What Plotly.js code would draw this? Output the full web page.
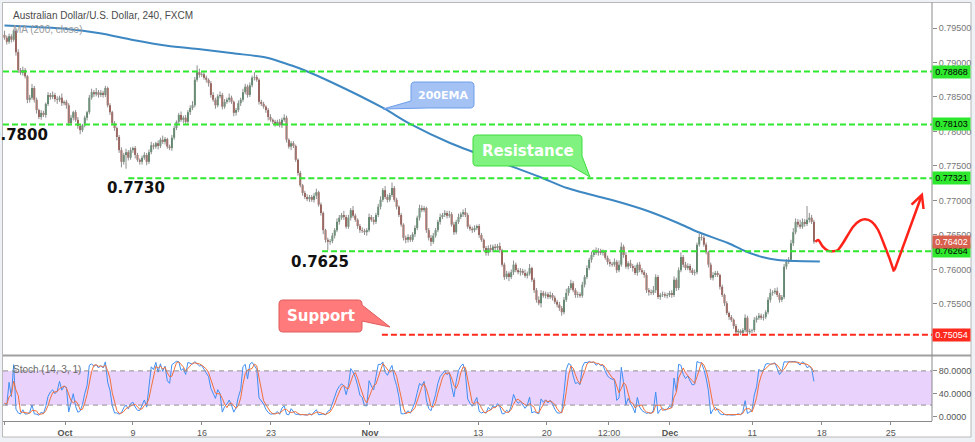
<!DOCTYPE html>
<html><head><meta charset="utf-8">
<script src="https://cdn.plot.ly/plotly-3.0.1.min.js"></script>
<style>html,body{margin:0;padding:0;background:#eef1f5;}#chart{width:975px;height:442px;}</style>
</head><body><div id="chart"></div>
<script>
// ---------- DATA ----------
const firstOpen = 0.7940;
const closes = [
0.7936,0.7930,0.7938,0.7933,0.7946,0.7915,0.7889,0.7885,0.7889,0.7880,
0.7846,0.7849,0.7863,0.7846,0.7831,0.7821,0.7827,0.7824,0.7840,0.7853,
0.7850,0.7853,0.7847,0.7846,0.7849,0.7841,0.7843,0.7838,0.7812,0.7820,
0.7828,0.7817,0.7808,0.7802,0.7809,0.7820,0.7828,0.7849,0.7857,0.7854,
0.7857,0.7853,0.7856,0.7853,0.7863,0.7838,0.7828,0.7812,0.7805,0.7792,
0.7773,0.7756,0.7766,0.7770,0.7762,0.7773,0.7776,0.7766,0.7759,0.7756,
0.7762,0.7766,0.7756,0.7770,0.7780,0.7778,0.7783,0.7779,0.7788,0.7785,
0.7789,0.7778,0.7776,0.7791,0.7805,0.7814,0.7824,0.7817,0.7820,0.7814,
0.7828,0.7834,0.7838,0.7875,0.7886,0.7882,0.7883,0.7878,0.7875,0.7870,
0.7853,0.7846,0.7838,0.7851,0.7853,0.7836,0.7843,0.7846,0.7849,0.7843,
0.7827,0.7831,0.7841,0.7846,0.7857,0.7865,0.7853,0.7867,0.7878,0.7879,
0.7875,0.7843,0.7840,0.7836,0.7831,0.7821,0.7817,0.7814,0.7811,0.7814,
0.7809,0.7817,0.7820,0.7788,0.7778,0.7783,0.7779,0.7759,0.7740,0.7722,
0.7711,0.7705,0.7702,0.7705,0.7701,0.7707,0.7712,0.7694,0.7682,0.7657,
0.7643,0.7640,0.7641,0.7649,0.7657,0.7669,0.7675,0.7679,0.7676,0.7662,
0.7675,0.7686,0.7678,0.7672,0.7663,0.7657,0.7656,0.7654,0.7657,0.7676,
0.7672,0.7669,0.7679,0.7691,0.7701,0.7715,0.7705,0.7701,0.7708,0.7718,
0.7701,0.7691,0.7679,0.7665,0.7646,0.7643,0.7647,0.7643,0.7651,0.7660,
0.7675,0.7689,0.7686,0.7689,0.7657,0.7646,0.7640,0.7649,0.7657,0.7669,
0.7676,0.7679,0.7682,0.7678,0.7680,0.7665,0.7654,0.7669,0.7676,0.7680,
0.7683,0.7679,0.7662,0.7659,0.7657,0.7660,0.7663,0.7650,0.7643,0.7631,
0.7624,0.7631,0.7628,0.7633,0.7631,0.7634,0.7628,0.7607,0.7589,0.7594,
0.7589,0.7596,0.7607,0.7599,0.7596,0.7598,0.7595,0.7591,0.7594,0.7602,
0.7585,0.7570,0.7556,0.7551,0.7566,0.7562,0.7564,0.7560,0.7563,0.7559,
0.7553,0.7549,0.7544,0.7538,0.7556,0.7566,0.7573,0.7580,0.7570,0.7563,
0.7564,0.7562,0.7578,0.7589,0.7602,0.7614,0.7621,0.7625,0.7624,0.7627,
0.7624,0.7625,0.7617,0.7611,0.7608,0.7607,0.7611,0.7599,0.7607,0.7633,
0.7621,0.7604,0.7609,0.7605,0.7602,0.7595,0.7607,0.7599,0.7596,0.7592,
0.7570,0.7567,0.7566,0.7570,0.7589,0.7560,0.7563,0.7564,0.7562,0.7563,
0.7566,0.7563,0.7585,0.7573,0.7599,0.7618,0.7607,0.7602,0.7605,0.7599,
0.7595,0.7596,0.7636,0.7647,0.7646,0.7636,0.7625,0.7607,0.7588,0.7592,
0.7595,0.7592,0.7575,0.7563,0.7551,0.7537,0.7531,0.7527,0.7518,0.7509,
0.7511,0.7508,0.7512,0.7530,0.7509,0.7511,0.7512,0.7527,0.7530,0.7533,
0.7530,0.7531,0.7538,0.7556,0.7566,0.7567,0.7569,0.7563,0.7556,0.7560,
0.7604,0.7611,0.7614,0.7638,0.7654,0.7669,0.7665,0.7662,0.7669,0.7666,
0.7672,0.7675,0.7669,0.76402
];
// upper / lower wick lengths in pips
const wickHi = [
6,3,4,3,2,3,4,3,5,3, 2,4,6,3,3,2,4,3,2,4, 3,5,3,4,3,6,2,3,3,4,
2,3,4,3,2,3,2,4,5,3, 6,3,4,3,3,2,3,2,3,2, 3,4,3,5,3,4,2,3,3,2,
3,4,3,4,5,3,2,4,3,6, 3,2,3,4,3,2,3,5,3,4, 3,4,6,4,10,5,3,4,3,2,
3,4,3,3,5,3,4,3,6,3, 2,3,4,3,5,4,3,4,3,7, 3,2,3,3,2,3,4,2,3,3,
4,3,5,3,2,3,3,2,2,3, 2,3,4,3,3,4,5,2,3,2, 2,3,3,4,3,5,4,3,6,3,
4,3,6,3,2,3,4,3,3,5, 3,4,3,4,5,3,6,4,3,8, 3,3,2,3,2,3,4,3,3,4,
3,5,4,3,2,3,4,4,3,3, 5,3,4,3,5,3,4,3,5,3, 4,6,3,3,3,4,2,3,3,2,
3,4,5,3,4,3,5,2,3,4, 3,4,6,3,3,4,3,5,3,6, 2,3,3,5,4,3,4,3,5,3,
3,3,4,3,4,6,3,5,3,3, 4,3,4,3,4,3,5,4,7,4, 3,4,3,3,4,3,5,3,6,6,
3,4,3,5,3,4,3,4,3,3, 3,3,4,6,4,3,3,4,3,3, 3,4,5,3,4,7,3,4,4,3,
3,4,3,5,4,3,3,2,3,4, 3,3,2,3,2,3,2,3,2,3, 3,2,3,5,3,3,2,4,3,4,
3,4,3,4,6,3,4,5,3,3, 4,4,4,5,6,5,4,7,5,4, 20,7,4,3
];
const wickLo = [
3,4,3,4,3,5,4,3,4,3, 5,4,3,4,5,3,4,3,4,3, 4,3,4,6,3,4,3,5,4,3,
4,3,4,6,3,3,4,3,3,4, 3,4,3,4,3,3,4,3,4,5, 4,8,4,20,4,3,4,5,3,4,
4,3,5,3,3,4,3,5,3,3, 4,3,3,4,3,3,4,3,5,3, 3,4,3,3,3,4,3,3,4,5,
4,3,5,3,3,4,3,3,4,3, 5,4,3,4,3,3,4,3,3,4, 3,4,3,3,4,5,3,3,4,3,
3,4,3,4,3,5,3,3,4,3, 4,3,3,4,3,4,5,3,4,6, 4,12,4,3,4,3,4,3,4,3,
3,4,3,3,4,4,3,4,5,3, 3,4,3,3,4,3,3,4,3,3, 3,4,3,3,4,5,4,3,3,4,
3,4,3,3,4,4,6,3,3,3, 4,3,3,4,3,3,4,3,3,3, 4,3,3,3,4,3,3,4,3,5,
4,4,3,3,4,3,4,3,4,3, 6,3,4,3,3,5,3,3,4,3, 3,4,4,3,6,3,4,3,3,4,
3,4,4,5,3,3,4,3,3,4, 4,3,3,4,3,3,4,3,3,4, 3,4,3,4,4,3,3,4,3,3,
4,3,4,3,5,3,4,3,3,4, 4,5,3,3,4,3,4,3,3,4, 3,4,3,4,3,3,4,3,3,4,
3,4,3,3,4,3,3,4,3,4, 3,3,4,3,4,3,4,3,4,4, 3,3,4,3,4,3,3,3,4,3,
3,4,3,3,4,4,3,3,4,3, 3,4,3,3,4,3,4,3,3,4, 3,4,3,3
];
// 200 moving average, read at points along the line (candle index, price)
const emaIdx = [0,27.3,41.6,56.0,70.9,85.3,99.7,114.5,124.5,128.9,143.3,165.1,176.9,194.3,216.1,233.5,245.3,259.7,264.9,279.3,293.7,302.4,315.5,322.9,330.4,337.3,344.7,355.6];
const emaVal = [0.79536,0.79486,0.79423,0.79326,0.79243,0.79191,0.79133,0.79070,0.78964,0.78913,0.78703,0.78341,0.78109,0.77833,0.77558,0.77341,0.77181,0.77051,0.77007,0.76862,0.76674,0.76543,0.76384,0.76268,0.76180,0.76136,0.76122,0.76116];
// horizontal levels
const resLevels = [0.78868, 0.78103, 0.77321, 0.76264];
const resStart  = [-0.65, -0.65, 54, 138.5];
const supLevel = 0.75054, supStart = 164.6;
const lastPrice = 0.76402;
// projected path (candle index, price)
const fcIdx = [353.6,354.9,356.9,359.1,361.3,363.5,365.7,370.1,373.1,375.3,378.2,381.0,384.0,386.2,387.9];
const fcVal = [0.76402,0.76428,0.76330,0.76272,0.76264,0.76283,0.76384,0.76620,0.76707,0.76728,0.76693,0.76572,0.76330,0.76138,0.75968];
const fcTip = [400.5, 0.77119];
// axes
const xTickVals = [0.2,26.4,56.0,86.1,116.2,159.4,206.6,236.5,263.6,290.2,326.1,356.4,386.5];
const xTickText = ['12:00','<b>Oct</b>','9','16','23','<b>Nov</b>','13','20','12:00','<b>Dec</b>','11','18','25'];
const yTickVals = [0.755,0.760,0.765,0.770,0.775,0.780,0.785,0.790,0.795];
const stochTickVals = [0,40,80];
const stochTickText = ['0.0000','40.0000','80.0000'];
const stochBand = [20,80];
const stochLen = 14, stochD = 3;

// ---------- build ----------
const PIP = 0.0001;
const n = closes.length;
const idx = [], opens = [], highs = [], lows = [];
for (let i = 0; i < n; i++) {
  idx.push(i);
  const o = i === 0 ? firstOpen : closes[i-1];
  opens.push(o);
  highs.push(Math.max(o, closes[i]) + wickHi[i]*PIP);
  lows.push(Math.min(o, closes[i]) - wickLo[i]*PIP);
}
const wx = [], wy = [];
for (let i = 0; i < n; i++) { wx.push(i, i, null); wy.push(lows[i], highs[i], null); }
const bodyBase = [], bodyH = [], bodyCol = [];
for (let i = 0; i < n; i++) {
  const lo = Math.min(opens[i], closes[i]);
  bodyBase.push(lo);
  bodyH.push(Math.max(Math.abs(closes[i]-opens[i]), 0.00006));
  bodyCol.push(closes[i] >= opens[i] ? '#2f7a4a' : '#9c2c20');
}
// Stochastic (14) %K and its 3-period %D, from the candles
const kArr = [], dArr = [];
for (let i = 0; i < n; i++) {
  let hh = -Infinity, ll = Infinity;
  for (let j = Math.max(0, i-stochLen+1); j <= i; j++) { hh = Math.max(hh, highs[j]); ll = Math.min(ll, lows[j]); }
  kArr.push(hh > ll ? 100*(closes[i]-ll)/(hh-ll) : 50);
}
for (let i = 0; i < n; i++) {
  let s = 0, c = 0;
  for (let j = Math.max(0, i-stochD+1); j <= i; j++) { s += kArr[j]; c++; }
  dArr.push(s/c);
}

// pixel helpers for decorations
const PL = 3, PR = 932, PT = 3, PB = 421;
const px = x => (x-PL)/(PR-PL);
const py = y => (PB-y)/(PB-PT);
function pathPx(cmds){
  return cmds.map(c => { let s = c[0]; for (let k = 1; k < c.length; k += 2) s += (k>1?' ':'') + px(c[k]).toFixed(5) + ',' + py(c[k+1]).toFixed(5); return s; }).join(' ') + ' Z';
}

const traces = [
  {type:'scatter', mode:'lines', x:wx, y:wy, line:{color:'#8e8e8e', width:1}, hoverinfo:'skip', xaxis:'x', yaxis:'y'},
  {type:'bar', x:idx, y:bodyH, base:bodyBase, width:0.8, marker:{color:bodyCol, line:{width:0}}, hoverinfo:'skip', xaxis:'x', yaxis:'y'},
  {type:'scatter', mode:'lines', x:emaIdx, y:emaVal, line:{color:'#3d87c2', width:2, shape:'spline', smoothing:0.8}, hoverinfo:'skip', xaxis:'x', yaxis:'y'},
  {type:'scatter', mode:'lines', x:fcIdx, y:fcVal, line:{color:'#ff2218', width:2.5, shape:'spline', smoothing:0.6}, hoverinfo:'skip', xaxis:'x', yaxis:'y'},
  {type:'scatter', mode:'lines', x:idx, y:kArr, line:{color:'#3f8ff2', width:1}, hoverinfo:'skip', xaxis:'x', yaxis:'y2'},
  {type:'scatter', mode:'lines', x:idx, y:dArr, line:{color:'#f2703a', width:1}, hoverinfo:'skip', xaxis:'x', yaxis:'y2'}
];

const shapes = [
  {type:'rect', xref:'paper', yref:'paper', x0:px(2.5), x1:px(971), y0:py(437), y1:py(2.5), fillcolor:'#ffffff', line:{color:'#b8b8b8', width:1}, layer:'below'},
  {type:'rect', xref:'paper', yref:'y2', x0:0, x1:1, y0:stochBand[0], y1:stochBand[1], fillcolor:'#e9d2fc', line:{width:0}, layer:'below'},
  {type:'line', xref:'paper', yref:'y2', x0:0, x1:1, y0:stochBand[1], y1:stochBand[1], line:{color:'#8f8f8f', width:1, dash:'5px,4px'}},
  {type:'line', xref:'paper', yref:'y2', x0:0, x1:1, y0:stochBand[0], y1:stochBand[0], line:{color:'#8f8f8f', width:1, dash:'5px,4px'}},
  {type:'line', xref:'paper', yref:'paper', x0:0, x1:px(971), y0:py(355.5), y1:py(355.5), line:{color:'#a0a0a0', width:2}},
  {type:'line', xref:'paper', yref:'paper', x0:1, x1:1, y0:0, y1:py(2.5), line:{color:'#8a8a8a', width:1}}
];
resLevels.forEach((lv, k) => shapes.push({type:'line', xref:'x', yref:'y', x0:resStart[k], x1:404.5, y0:lv, y1:lv, line:{color:'#2ee82e', width:2, dash:'6px,3px'}}));
shapes.push({type:'line', xref:'x', yref:'y', x0:supStart, x1:404.5, y0:supLevel, y1:supLevel, line:{color:'#ff2a1e', width:2, dash:'6px,3px'}});
// callout boxes
shapes.push({type:'path', xref:'paper', yref:'paper', fillcolor:'#a4c2f4', line:{color:'#6d9eeb', width:1},
  path: pathPx([['M',415,82],['L',470,82],['Q',474,82,474,86],['L',474,104],['Q',474,108,470,108],['L',428,108],['L',383,109],['L',411,101],['L',411,86],['Q',411,82,415,82]])});
shapes.push({type:'path', xref:'paper', yref:'paper', fillcolor:'#80f27f', line:{color:'#3ddc3d', width:1},
  path: pathPx([['M',477,135],['L',578,135],['Q',582,135,582,139],['L',582,156],['L',590,177],['L',571,166],['L',477,166],['Q',473,166,473,162],['L',473,139],['Q',473,135,477,135]])});
shapes.push({type:'path', xref:'paper', yref:'paper', fillcolor:'#ff7b7b', line:{color:'#e05a5a', width:1},
  path: pathPx([['M',283,300],['L',358,300],['Q',362,300,362,304],['L',362,305],['L',390,327],['L',362,321],['L',362,328],['Q',362,332,358,332],['L',283,332],['Q',279,332,279,328],['L',279,304],['Q',279,300,283,300]])});

const small = {family:'Arial, Liberation Sans, sans-serif', size:10};
const bold15 = {family:'DejaVu Sans, sans-serif', size:15, color:'#111111'};
const annotations = [
  {xref:'paper', yref:'paper', x:px(10.5), y:py(15.7), xanchor:'left', yanchor:'middle', showarrow:false, text:'Australian Dollar/U.S. Dollar, 240, FXCM', font:Object.assign({}, small, {color:'#4a4a4a'})},
  {xref:'paper', yref:'paper', x:px(10.5), y:py(29.5), xanchor:'left', yanchor:'middle', showarrow:false, text:'MA (200, close)', font:Object.assign({}, small, {color:'#9a9a9a'})},
  {xref:'paper', yref:'paper', x:px(10.5), y:py(369), xanchor:'left', yanchor:'middle', showarrow:false, text:'Stoch (14, 3, 1)', font:Object.assign({}, small, {color:'#6a6a6a'})},
  {xref:'x', yref:'y', x:19.8, y:0.7795, xanchor:'right', yanchor:'middle', showarrow:false, text:'<b>0.7800</b>', font:bold15},
  {xref:'x', yref:'y', x:57.3, y:0.7718, xanchor:'center', yanchor:'middle', showarrow:false, text:'<b>0.7730</b>', font:bold15},
  {xref:'x', yref:'y', x:137.4, y:0.7611, xanchor:'center', yanchor:'middle', showarrow:false, text:'<b>0.7625</b>', font:bold15},
  {xref:'paper', yref:'paper', x:px(442.5), y:py(95), xanchor:'center', yanchor:'middle', showarrow:false, text:'<b>200EMA</b>', font:{family:'DejaVu Sans, sans-serif', size:11, color:'#ffffff'}},
  {xref:'paper', yref:'paper', x:px(527.5), y:py(150.5), xanchor:'center', yanchor:'middle', showarrow:false, text:'<b>Resistance</b>', font:{family:'DejaVu Sans, sans-serif', size:15, color:'#ffffff'}},
  {xref:'paper', yref:'paper', x:px(320.5), y:py(316), xanchor:'center', yanchor:'middle', showarrow:false, text:'<b>Support</b>', font:{family:'DejaVu Sans, sans-serif', size:15, color:'#ffffff'}},
  {xref:'x', yref:'y', x:fcTip[0], y:fcTip[1], axref:'x', ayref:'y', ax:fcIdx[fcIdx.length-1], ay:fcVal[fcVal.length-1], text:'', showarrow:true, arrowhead:5, arrowsize:1, arrowwidth:2.5, arrowcolor:'#ff2218'}
];
function priceBox(v, bg, fg){
  return {xref:'paper', yref:'y', x:1, y:v, xanchor:'left', yanchor:'middle', showarrow:false, text:v.toFixed(5), bgcolor:bg, width:35, height:10, borderpad:1, align:'center', font:{family:'Arial, Liberation Sans, sans-serif', size:9, color:fg}};
}
resLevels.forEach(v => annotations.push(priceBox(v, '#2ee82e', '#000000')));
annotations.push(priceBox(lastPrice, '#d8604e', '#ffffff'));
annotations.push(priceBox(supLevel, '#ff2a1e', '#ffffff'));

const layout = {
  width:975, height:442, margin:{l:PL, r:975-PR, t:PT, b:442-PB, pad:0},
  paper_bgcolor:'#eef1f5', plot_bgcolor:'rgba(0,0,0,0)', showlegend:false, hovermode:false, barmode:'overlay',
  xaxis:{range:[-0.65,404.5], anchor:'y2', tickmode:'array', tickvals:xTickVals, ticktext:xTickText, ticks:'outside', ticklen:3, tickcolor:'#8a8a8a',
         showline:true, linecolor:'#8a8a8a', linewidth:1, showgrid:false, zeroline:false, tickfont:{family:'Arial, Liberation Sans, sans-serif', size:9, color:'#555555'}, fixedrange:true},
  yaxis:{domain:[0.158,1], range:[0.747609,0.798623], side:'right', anchor:'x', tickmode:'array', tickvals:yTickVals, tickformat:'.5f', ticks:'outside', ticklen:4, tickcolor:'#8a8a8a',
         showgrid:false, zeroline:false, showline:false, tickfont:{family:'Arial, Liberation Sans, sans-serif', size:9, color:'#777777'}, fixedrange:true},
  yaxis2:{domain:[0,0.1555], range:[-7.9,106.1], side:'right', anchor:'x', tickmode:'array', tickvals:stochTickVals, ticktext:stochTickText, ticks:'outside', ticklen:4, tickcolor:'#8a8a8a',
         showgrid:false, zeroline:false, showline:false, tickfont:{family:'Arial, Liberation Sans, sans-serif', size:9, color:'#555555'}, fixedrange:true},
  shapes:shapes, annotations:annotations
};
Plotly.newPlot('chart', traces, layout, {staticPlot:true, displayModeBar:false});
</script>
</body></html>
